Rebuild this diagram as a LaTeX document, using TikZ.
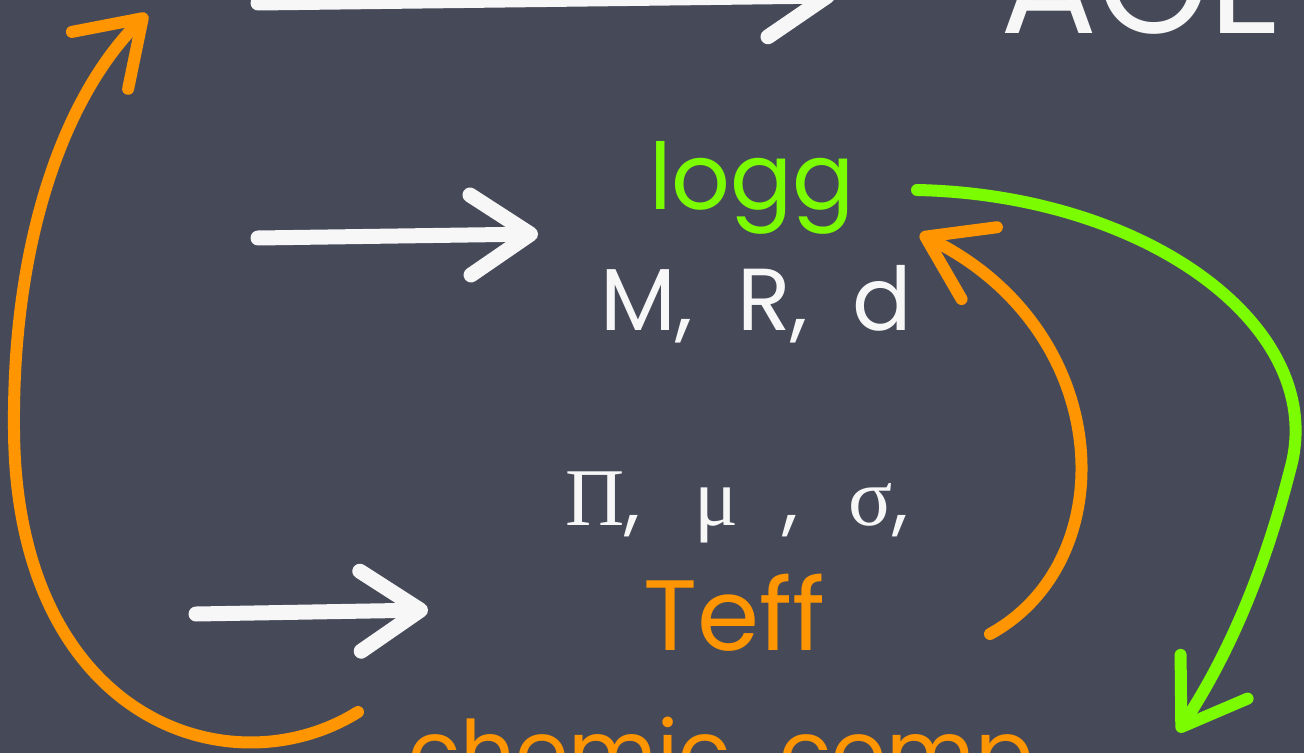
\documentclass[tikz,border=0pt]{standalone}
\usepackage{fontspec}
\setmainfont{Poppins}
\newfontfamily\greekserif{Liberation Serif}
\usetikzlibrary{arrows.meta}
\definecolor{board}{HTML}{464A58}
\definecolor{chalkgreen}{HTML}{7CFC00}
\definecolor{chalkorange}{HTML}{FF9500}
\definecolor{chalkwhite}{HTML}{F7F7F7}
\newcommand{\gk}[1]{{\greekserif\fontsize{41}{41}\selectfont #1}}
\begin{document}
\begin{tikzpicture}[x=0.5pt,y=-0.5pt,
  chalk/.style={line cap=round, line join=round},
  whitearrow/.style={chalk, draw=chalkwhite, line width=7.5pt,
    -{Straight Barb[length=30pt,width=40pt,line cap=round,line join=round]}},
  orangearrow/.style={chalk, draw=chalkorange, line width=6pt,
    -{Straight Barb[length=30pt,width=40pt,line cap=round,line join=round]}},
  greenarrow/.style={chalk, draw=chalkgreen, line width=6pt,
    -{Straight Barb[length=30pt,width=40pt,line cap=round,line join=round]}},
  label/.style={anchor=base, inner sep=0pt}]
\useasboundingbox (0,0) rectangle (1304,753);
\fill[board] (0,0) rectangle (1304,753);
\clip (0,0) rectangle (1304,753);

% texts
\node[label, text=chalkwhite, font=\fontsize{72}{72}\selectfont] (age) at (1142,34) {AGE};
\node[label, text=chalkgreen, font=\fontsize{46}{46}\selectfont] (logg) at (752,210) {logg};
\node[label, text=chalkwhite, font=\fontsize{44}{44}\selectfont] (mrd) at (756,330) {M,\hspace{0.5em}R,\hspace{0.5em}d};
\node[label, text=chalkwhite, font=\fontsize{40}{40}\selectfont] (pms) at (737,525)
  {\gk{Π},\hspace{27pt}\gk{μ}\hspace{22pt},\hspace{25pt}\gk{σ},};
\node[label, text=chalkorange, font=\fontsize{50}{50}\selectfont] (teff) at (734,650) {Teff};
\node[label, text=chalkorange, font=\fontsize{43}{43}\selectfont] (chem) at (730,782) {chemic. comp.};

% connector end points
\coordinate (t1) at (258,3);
\coordinate (t2) at (835,-4);
\coordinate (a1) at (258,238);
\coordinate (a2) at (538,234);
\coordinate (b1) at (196,614);
\coordinate (b2) at (428,610);
\coordinate (l1) at (358,712);
\coordinate (l2) at (147,14);
\coordinate (r1) at (990,634);
\coordinate (r2) at (920,234);
\coordinate (g1) at (917,190);
\coordinate (g2) at (1178,732);

% white arrows
\draw[whitearrow] (t1) -- (t2);
\draw[whitearrow] (a1) -- (a2);
\draw[whitearrow] (b1) -- (b2);

% orange arrows
\draw[orangearrow] (l1) .. controls (230,792) and (16,720) .. (14,430)
  .. controls (12,230) and (70,90) .. (l2);
\draw[orangearrow] (r1) .. controls (1125,560) and (1115,330) .. (r2);

% green arrow
\draw[greenarrow] (g1) .. controls (1150,195) and (1330,330) .. (1290,470)
  .. controls (1262,580) and (1225,660) .. (g2);
\end{tikzpicture}
\end{document}
